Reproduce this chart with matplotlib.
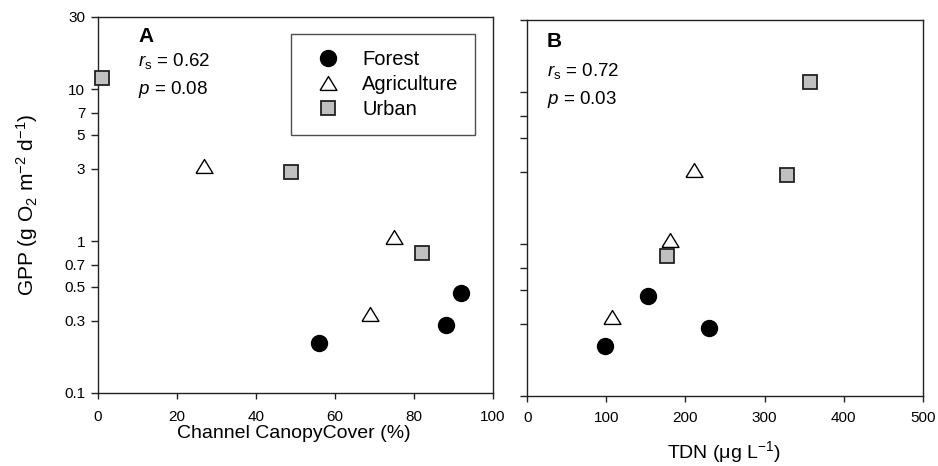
import matplotlib
matplotlib.use("Agg")
import matplotlib.pyplot as plt
import numpy as np

plt.rcParams['font.family'] = ['Liberation Sans', 'DejaVu Sans']
plt.rcParams['mathtext.fontset'] = 'custom'
plt.rcParams['mathtext.rm'] = 'Liberation Sans'
plt.rcParams['mathtext.it'] = 'Liberation Sans:italic'
plt.rcParams['mathtext.bf'] = 'Liberation Sans:bold'

# Land-use groups
groups = ["Forest", "Agriculture", "Urban"]

# Channel canopy cover (%) per site
canopy_forest = [56, 92, 88]
canopy_agri = [27, 75, 69]
canopy_urban = [1, 49, 82]

# Total dissolved nitrogen (ug/L) per site
tdn_forest = [98, 153, 230]
tdn_agri = [107, 180, 211]
tdn_urban = [358, 328, 177]

# Gross primary production (g O2 m-2 d-1), same site order as canopy lists
gpp_forest = [0.213, 0.455, 0.28]
gpp_agri = [3.1, 1.06, 0.33]
gpp_urban = [11.8, 2.84, 0.835]

# GPP in the same site order as the TDN lists
gpp_forest_b = [0.213, 0.455, 0.28]
gpp_agri_b = [0.33, 1.06, 3.1]
gpp_urban_b = [11.8, 2.84, 0.835]

yticks = [0.1, 0.3, 0.5, 0.7, 1, 3, 5, 7, 10, 30]
ytick_labels = ["0.1", "0.3", "0.5", "0.7", "1", "3", "5", "7", "10", "30"]

stats_a = ("0.62", "0.08")
stats_b = ("0.72", "0.03")

tri = [(-1, -0.82), (1, -0.82), (0, 0.82), (-1, -0.82)]
styles = {
    "Forest": dict(marker="o", ms=11.5, mfc="black", mec="black", mew=1.0),
    "Agriculture": dict(marker=tri, ms=12.2, mfc="white", mec="black", mew=1.0),
    "Urban": dict(marker="s", ms=10.2, mfc="#c0c0c0", mec="#222222", mew=1.3),
}

W, H = 938, 466
fig = plt.figure(figsize=(W / 100, H / 100), dpi=100)

def px_axes(l, t, r, b):
    return fig.add_axes([l / W, 1 - b / H, (r - l) / W, (b - t) / H])

axA = px_axes(97.7, 16.7, 493.0, 393.0)
axB = px_axes(527.3, 20.0, 922.7, 396.0)

spine_col = "#222222"
for ax in (axA, axB):
    ax.set_yscale("log")
    ax.set_ylim(0.1, 30)
    ax.set_yticks(yticks)
    ax.yaxis.set_minor_locator(matplotlib.ticker.NullLocator())
    for s in ax.spines.values():
        s.set_color(spine_col)
        s.set_linewidth(1.0)
    ax.tick_params(axis="both", which="major", direction="out",
                   width=1.0, color=spine_col, labelsize=11)
    ax.tick_params(axis="y", length=5, pad=4)
    ax.tick_params(axis="x", length=4)

axA.set_yticklabels(ytick_labels)
axB.set_yticklabels([""] * len(yticks))

axA.set_xlim(0, 100)
axA.set_xticks([0, 20, 40, 60, 80, 100])
axA.tick_params(axis="x", pad=8.5)
axB.set_xlim(0, 500)
axB.set_xticks([0, 100, 200, 300, 400, 500])
axB.tick_params(axis="x", pad=7)

xa = {"Forest": canopy_forest, "Agriculture": canopy_agri, "Urban": canopy_urban}
ya = {"Forest": gpp_forest, "Agriculture": gpp_agri, "Urban": gpp_urban}
xb = {"Forest": tdn_forest, "Agriculture": tdn_agri, "Urban": tdn_urban}
yb = {"Forest": gpp_forest_b, "Agriculture": gpp_agri_b, "Urban": gpp_urban_b}

handles = []
for g in groups:
    h, = axA.plot(xa[g], ya[g], ls="none", label=g, clip_on=False, zorder=3, **styles[g])
    handles.append(h)
    axB.plot(xb[g], yb[g], ls="none", clip_on=False, zorder=3, **styles[g])

leg = axA.legend(handles=handles, loc="upper left",
                 bbox_to_anchor=(290.7 / W, 1 - 34 / H), bbox_transform=fig.transFigure,
                 borderaxespad=0, fontsize=14.5, frameon=True, fancybox=False,
                 borderpad=0.8, handlelength=2.08, handletextpad=0.67,
                 labelspacing=0.29, numpoints=1)
leg.get_frame().set_edgecolor(spine_col)
leg.get_frame().set_linewidth(1.0)

axA.set_xlabel("Channel CanopyCover (%)", fontsize=14)
axA.xaxis.set_label_coords(0.496, -0.085)
axA.set_ylabel(r"GPP (g O$_2$ m$^{-2}$ d$^{-1}$)", fontsize=15)
axA.yaxis.set_label_coords(-0.146, 0.5)

axB.set_xlabel(r"TDN ($\mathrm{\mu}$g L$^{-1}$)", fontsize=14)
axB.xaxis.set_label_coords(0.498, -0.115)

def annotate(ax, letter, stats, xl, yl, yr, yp):
    ax.text(xl, yl, letter, transform=ax.transAxes, fontsize=15,
            fontweight="bold", va="baseline", ha="left")
    ax.text(xl, yr, r"$r_\mathrm{s}$" + " = " + stats[0], transform=ax.transAxes,
            fontsize=13.5, va="baseline", ha="left")
    ax.text(xl, yp, r"$p$" + " = " + stats[1], transform=ax.transAxes,
            fontsize=13.5, va="baseline", ha="left")

annotate(axA, "A", stats_a, 0.103, 0.932, 0.870, 0.794)
annotate(axB, "B", stats_b, 0.050, 0.929, 0.851, 0.777)

fig.savefig("out.png", dpi=100)
